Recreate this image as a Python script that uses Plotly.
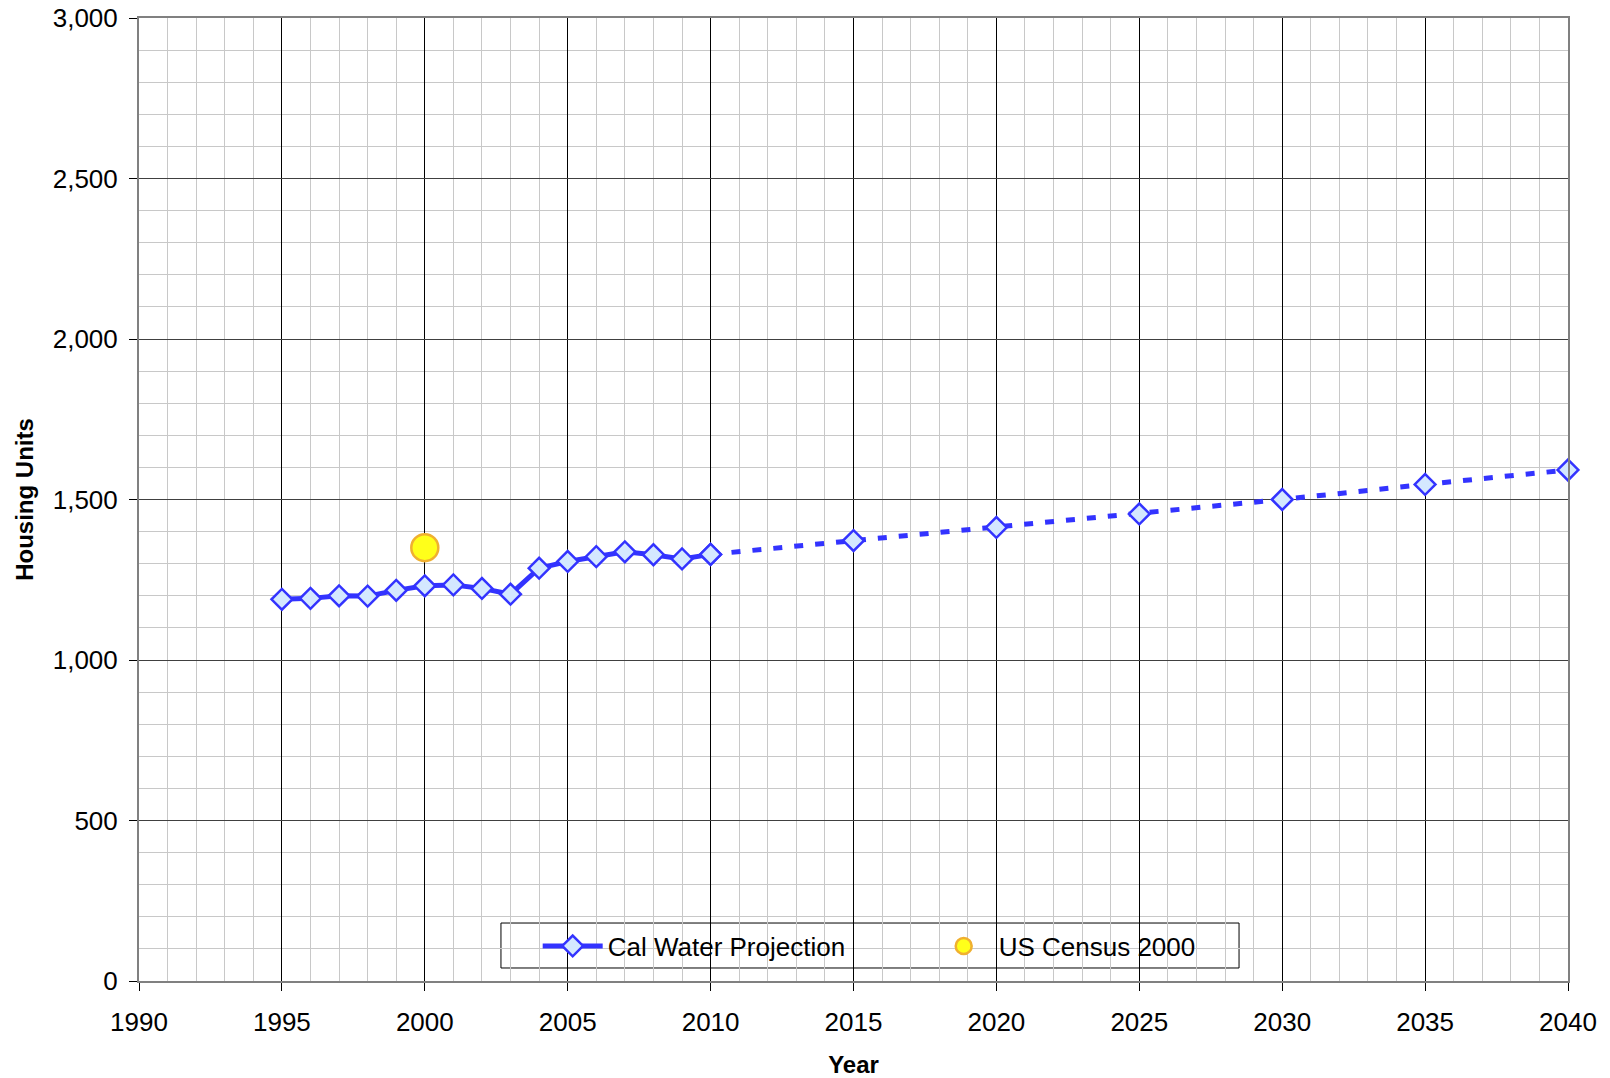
import plotly.graph_objects as go

# Historical Cal Water housing units
hist_years = [1995, 1996, 1997, 1998, 1999, 2000, 2001, 2002, 2003, 2004, 2005, 2006, 2007, 2008, 2009, 2010]
hist_units = [1189, 1192, 1200, 1199, 1217, 1231, 1234, 1223, 1205, 1286, 1307, 1322, 1337, 1328, 1315, 1329]

# Projection
proj_years = [2010, 2015, 2020, 2025, 2030, 2035, 2040]
proj_units = [1329, 1372, 1413, 1455, 1500, 1547, 1592]

# US Census 2000
census_years = [2000]
census_units = [1350]

LINE_BLUE = "#3333FF"
FILL_BLUE = "#D4E8FF"
FONT = "Liberation Sans, Arial, sans-serif"

fig = go.Figure()

fig.add_trace(go.Scatter(
    x=proj_years, y=proj_units, mode="lines+markers", showlegend=False,
    line=dict(color=LINE_BLUE, width=5, dash="9px,12px"),
    marker=dict(symbol="diamond", size=16, color=FILL_BLUE, line=dict(color=LINE_BLUE, width=2.5)),
    cliponaxis=False,
))
fig.add_trace(go.Scatter(
    x=hist_years, y=hist_units, mode="lines+markers", name="Cal Water Projection",
    line=dict(color=LINE_BLUE, width=5),
    marker=dict(symbol="diamond", size=16, color=FILL_BLUE, line=dict(color=LINE_BLUE, width=2.5)),
    cliponaxis=False,
))
fig.add_trace(go.Scatter(
    x=census_years, y=census_units, mode="markers", name="US Census 2000",
    marker=dict(symbol="circle", size=27, color="#FFFF1A", line=dict(color="#F0B030", width=2.5)),
    cliponaxis=False,
))

# legend frame
fig.add_shape(type="rect", xref="paper", yref="paper",
              x0=0.2533, x1=0.7698, y0=0.0135, y1=0.0602,
              line=dict(color="black", width=1), fillcolor="white", layer="between")

fig.update_layout(
    width=1610, height=1078,
    margin=dict(l=139, r=42, t=18, b=97, autoexpand=False),
    paper_bgcolor="white", plot_bgcolor="white",
    font=dict(family=FONT, size=26, color="black"),
    legend=dict(
        orientation="h", x=0.279, y=0.0363, xanchor="left", yanchor="middle",
        bgcolor="rgba(0,0,0,0)", borderwidth=0,
        font=dict(size=26), itemwidth=60, entrywidth=316, entrywidthmode="pixels",
    ),
    xaxis=dict(
        range=[1990, 2040], dtick=5, tick0=1990, automargin=False,
        showgrid=True, gridcolor="#000000", gridwidth=1,
        minor=dict(dtick=1, showgrid=True, gridcolor="#C8C8C8", gridwidth=1),
        showline=True, linecolor="#808080", linewidth=2, mirror=True,
        ticks="outside", ticklen=8, tickcolor="black",
        zeroline=False, ticklabeloverflow="allow",
        title=dict(text="<b>Year</b>", font=dict(size=24), standoff=21),
        ticklabelstandoff=9,
    ),
    yaxis=dict(
        range=[0, 3000], dtick=500, tickformat=",", automargin=False,
        showgrid=True, gridcolor="#404040", gridwidth=1,
        minor=dict(dtick=100, showgrid=True, gridcolor="#C8C8C8", gridwidth=1),
        showline=True, linecolor="#808080", linewidth=2, mirror=True,
        ticks="outside", ticklen=8, tickcolor="black",
        zeroline=False, ticklabeloverflow="allow",
        title=dict(text="<b>Housing Units</b>", font=dict(size=24), standoff=12),
        ticklabelstandoff=6,
    ),
)

# remove the default 8px page margin so the figure fills the window exactly
fig.write_html(
    "out.html",
    config={"displayModeBar": False},
    post_script="document.body.style.margin='0';document.body.style.overflow='hidden';",
)
